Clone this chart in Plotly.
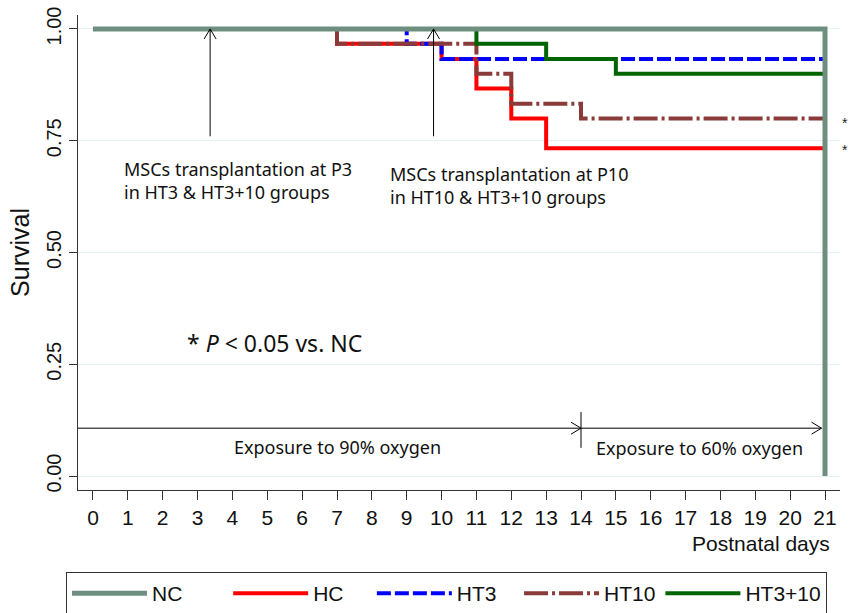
import plotly.graph_objects as go

# ---- data (Kaplan-Meier step points) ----
nc_days = [0, 21, 21]
nc_surv = [1.0, 1.0, 0.0]
hc_days = [0, 7, 10, 11, 12, 13, 21]
hc_surv = [1.0, 0.967, 0.933, 0.867, 0.800, 0.733, 0.733]
ht3_days = [0, 9, 10, 21]
ht3_surv = [1.0, 0.967, 0.933, 0.933]
ht10_days = [0, 7, 11, 12, 14, 21]
ht10_surv = [1.0, 0.967, 0.900, 0.833, 0.800, 0.800]
ht310_days = [0, 11, 13, 15, 21]
ht310_surv = [1.0, 0.967, 0.933, 0.900, 0.900]

x_ticks = list(range(0, 22))
y_ticks = [0.0, 0.25, 0.5, 0.75, 1.0]
y_tick_labels = ["0.00", "0.25", "0.50", "0.75", "1.00"]

TICKFONT = "Liberation Sans Narrow, Arial Narrow, Liberation Sans, Arial"
SANS = "Liberation Sans, Arial, sans-serif"
NOTE = "Noto Sans, Open Sans, sans-serif"

NB = "\u00a0"

fig = go.Figure()

def add(name, pad, xs, ys, color, width, dash, rank):
    fig.add_trace(go.Scatter(x=xs, y=ys, mode="lines", name=name + NB * pad,
                             line=dict(color=color, width=width, dash=dash, shape="hv"),
                             legendrank=rank, hovertemplate=name + ": %{y:.3f}<extra></extra>"))

add("HC", 4, hc_days, hc_surv, "#FF0000", 4, "solid", 2)
add("HT3", 3, ht3_days, ht3_surv, "#0000FF", 4, "14px,4px", 3)
add("HT10", 0, ht10_days, ht10_surv, "#8B3A3A", 4, "24px,4px,3px,4px", 4)
add("HT3+10", 0, ht310_days, ht310_surv, "#006400", 4, "solid", 5)
add("NC", 7, nc_days, nc_surv, "#6E8F80", 5, "solid", 1)

shapes = []
ann = []

px_per_day = 762 / (21.43 + 0.43)
px_per_unit = 475 / (1.0313 + 0.0313)
hx = 6 / px_per_day
hy = 10 / px_per_unit

def v_arrow(x, y0, y1):
    shapes.append(dict(type="line", xref="x", yref="y", x0=x, x1=x, y0=y0, y1=y1,
                       line=dict(color="black", width=1)))
    shapes.append(dict(type="path", xref="x", yref="y",
                       path=f"M {x-hx},{y1-hy} L {x},{y1} L {x+hx},{y1-hy}",
                       line=dict(color="black", width=1)))

def h_arrow(x0, x1, y):
    shapes.append(dict(type="line", xref="x", yref="y", x0=x0, x1=x1, y0=y, y1=y,
                       line=dict(color="black", width=1)))
    dx = 10 / px_per_day
    dy = 6 / px_per_unit
    shapes.append(dict(type="path", xref="x", yref="y",
                       path=f"M {x1-dx},{y+dy} L {x1},{y} L {x1-dx},{y-dy}",
                       line=dict(color="black", width=1)))

v_arrow(3.36, 0.76, 1.0)
v_arrow(9.77, 0.76, 1.0)
h_arrow(-0.43, 14.0, 0.107)
h_arrow(14.0, 20.9, 0.107)
shapes.append(dict(type="line", xref="x", yref="y", x0=14.0, x1=14.0, y0=0.063, y1=0.143,
                   line=dict(color="black", width=1)))

ann.append(dict(x=0.83, y=0.66, xref="x", yref="y", xanchor="left", yanchor="middle",
                text="MSCs transplantation at P3<br>in HT3 &amp; HT3+10 groups",
                showarrow=False, align="left", font=dict(family=NOTE, size=18, color="#111")))
ann.append(dict(x=8.46, y=0.649, xref="x", yref="y", xanchor="left", yanchor="middle",
                text="MSCs transplantation at P10<br>in HT10 &amp; HT3+10 groups",
                showarrow=False, align="left", font=dict(family=NOTE, size=18, color="#111")))
ann.append(dict(x=2.64, y=0.2975, xref="x", yref="y", xanchor="left", yanchor="middle",
                text="* <i>P</i> &lt; 0.05 vs. NC",
                showarrow=False, font=dict(family=NOTE, size=23, color="#111")))
ann.append(dict(x=7.0, y=0.064, xref="x", yref="y", xanchor="center", yanchor="middle",
                text="Exposure to 90% oxygen",
                showarrow=False, font=dict(family=NOTE, size=18, color="#111")))
ann.append(dict(x=17.4, y=0.063, xref="x", yref="y", xanchor="center", yanchor="middle",
                text="Exposure to 60% oxygen",
                showarrow=False, font=dict(family=NOTE, size=18, color="#111")))
ann.append(dict(x=0.9895, y=-0.1116, xref="paper", yref="paper", xanchor="right", yanchor="middle",
                text="Postnatal days", showarrow=False,
                font=dict(family=SANS, size=21, color="#111")))
# significance marks at right edge
for yv in (0.79, 0.73):
    ann.append(dict(x=1.0, y=yv, xref="paper", yref="y", xanchor="left", yanchor="middle",
                    text="*", showarrow=False, font=dict(family=SANS, size=14, color="#222")))

fig.update_layout(
    width=853, height=613,
    margin=dict(l=78, r=13, t=15, b=123, autoexpand=False),
    paper_bgcolor="white", plot_bgcolor="white",
    shapes=shapes, annotations=ann,
    showlegend=True,
    legend=dict(orientation="h", xref="container", yref="container",
                x=66 / 853, y=1 - 572 / 613, xanchor="left", yanchor="top",
                bordercolor="#333", borderwidth=1, bgcolor="white",
                font=dict(family=SANS, size=21, color="#111"),
                itemwidth=75, traceorder="normal"),
    xaxis=dict(range=[-0.43, 21.43], tickvals=x_ticks, ticktext=[str(v) for v in x_ticks],
               automargin=False,
               showgrid=False, zeroline=False, showline=True, linecolor="#333", linewidth=1,
               ticks="outside", ticklen=9, tickcolor="#333",
               tickfont=dict(family=TICKFONT, size=21, color="#111")),
    yaxis=dict(range=[-0.0313, 1.0313], tickvals=y_ticks, ticktext=y_tick_labels,
               automargin=False,
               tickangle=-90, showgrid=True, gridcolor="#E6F0F1", gridwidth=1,
               zeroline=False, showline=True, linecolor="#333", linewidth=1,
               ticks="outside", ticklen=8, tickcolor="#333",
               tickfont=dict(family=TICKFONT, size=20, color="#111"),
               title=dict(text="Survival", font=dict(family=SANS, size=25, color="#111"),
                          standoff=6)),
)

fig.write_html("out.html", config={"displayModeBar": False},
               post_script="document.body.style.margin='0';document.body.style.overflow='hidden';")
